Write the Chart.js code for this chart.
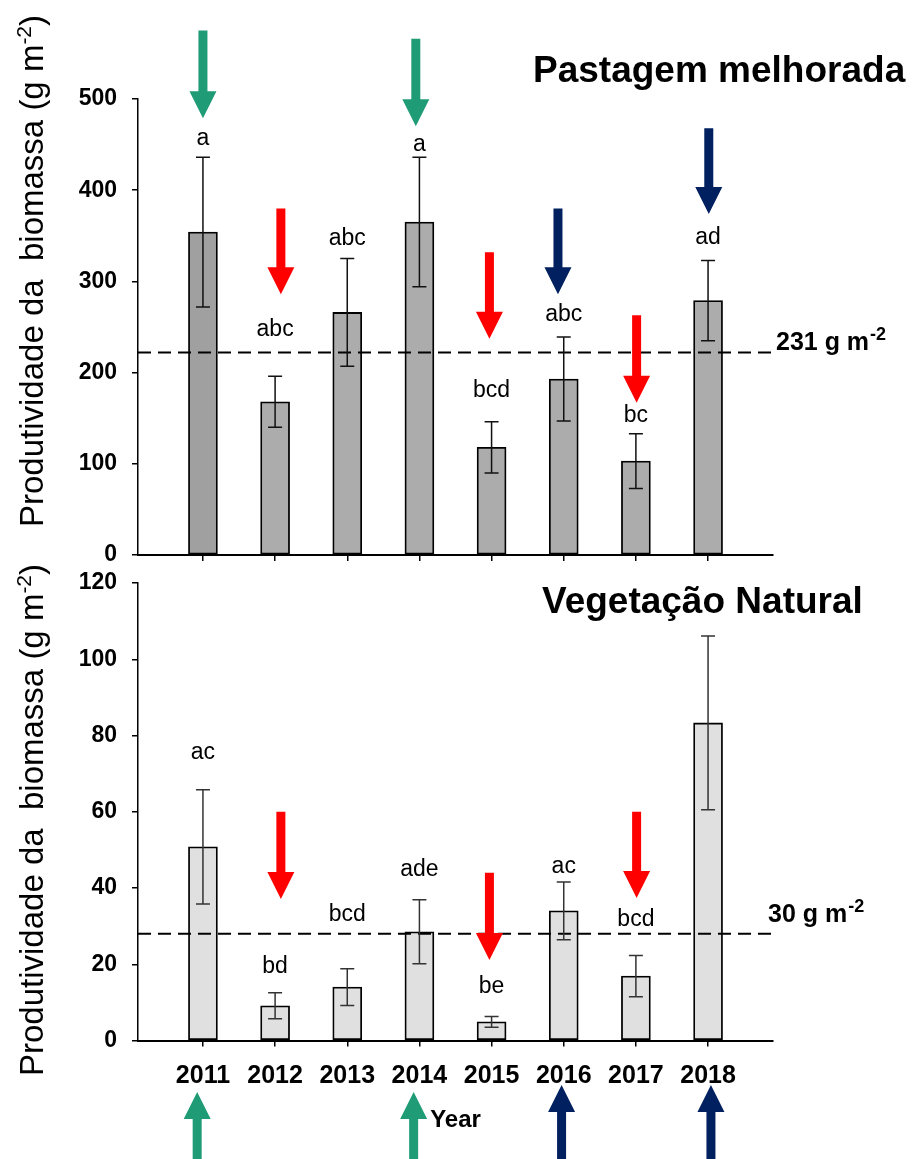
<!DOCTYPE html>
<html>
<head>
<meta charset="utf-8">
<script src="https://cdn.jsdelivr.net/npm/chart.js@4.4.1/dist/chart.umd.min.js"></script>
<style>
  html, body { margin: 0; padding: 0; background: #fff; }
  #wrap { position: relative; width: 913px; height: 1159px; overflow: hidden; }
  canvas { position: absolute; left: 0; top: 0; display: block; }
</style>
</head>
<body>
<div id="wrap">
  <canvas id="pastChart" width="913" height="1159"></canvas>
  <canvas id="vegChart" width="913" height="1159"></canvas>
</div>
<script>
const FAM = '"Liberation Sans", Arial, Helvetica, sans-serif';
const GREEN = '#1f9c76';
const RED = '#ff0000';
const NAVY = '#00205f';

// --- data ---
const YEARS = [2011, 2012, 2013, 2014, 2015, 2016, 2017, 2018];

// Pastagem melhorada (g m-2)
const PAST_MEAN = [354, 168, 266, 365, 118, 193, 103, 279];
const PAST_ERR = [82, 28, 59, 71, 28, 46, 30, 44];
const PAST_LETTERS = ['a', 'abc', 'abc', 'a', 'bcd', 'abc', 'bc', 'ad'];
const PAST_LETTER_Y = [456, 247, 347, 450, 180, 263, 153, 348];
const PAST_TICKS = [0, 100, 200, 300, 400, 500];
const PAST_REF = 222;

// Vegetação Natural (g m-2)
const VEG_MEAN = [50.8, 9.1, 14.0, 28.5, 4.9, 34.0, 16.9, 83.3];
const VEG_ERR = [15, 3.4, 4.8, 8.4, 1.4, 7.6, 5.4, 22.8];
const VEG_LETTERS = ['ac', 'bd', 'bcd', 'ade', 'be', 'ac', 'bcd', ''];
const VEG_LETTER_Y = [75.5, 19.3, 33, 44.8, 14, 45.6, 31.6, 0];
const VEG_TICKS = [0, 20, 40, 60, 80, 100, 120];
const VEG_REF = 28;

// arrows (x in years, from/to in y units of the panel)
const PAST_ARROWS = [
  { x: 2011.0, from: 575, to: 479, color: GREEN },
  { x: 2012.08, from: 380, to: 286, color: RED },
  { x: 2013.95, from: 566, to: 470, color: GREEN },
  { x: 2014.97, from: 332, to: 237, color: RED },
  { x: 2015.92, from: 380, to: 286, color: NAVY },
  { x: 2017.01, from: 263, to: 167, color: RED },
  { x: 2018.01, from: 468, to: 374, color: NAVY }
];
const VEG_ARROWS = [
  { x: 2012.08, from: 60, to: 37.1, color: RED },
  { x: 2014.97, from: 44, to: 21.1, color: RED },
  { x: 2017.01, from: 60, to: 37.4, color: RED },
  { x: 2010.92, from: -33, to: -13.5, color: GREEN },
  { x: 2013.92, from: -33, to: -13.5, color: GREEN },
  { x: 2015.97, from: -33, to: -11.7, color: NAVY },
  { x: 2018.04, from: -33, to: -11.7, color: NAVY }
];

const X_MIN = 2010.1, X_MAX = 2018.9;

function drawArrow(ctx, x, y0, y1, color) {
  const dir = Math.sign(y1 - y0);
  const headLen = 27, headW = 13.5, shaftW = 4.5;
  const hb = y1 - dir * headLen;
  ctx.fillStyle = color;
  ctx.beginPath();
  ctx.moveTo(x - shaftW, y0);
  ctx.lineTo(x + shaftW, y0);
  ctx.lineTo(x + shaftW, hb);
  ctx.lineTo(x + headW, hb);
  ctx.lineTo(x, y1);
  ctx.lineTo(x - headW, hb);
  ctx.lineTo(x - shaftW, hb);
  ctx.closePath();
  ctx.fill();
}

function drawYTitle(ctx, cx, cy) {
  const main = 'Produtividade da  biomassa (g m', sup = '-2', end = ')';
  const f1 = '33px ' + FAM, f2 = '21px ' + FAM;
  ctx.save();
  ctx.translate(cx, cy);
  ctx.rotate(-Math.PI / 2);
  ctx.font = f1;
  const w1 = ctx.measureText(main).width, w3 = ctx.measureText(end).width;
  ctx.font = f2;
  const w2 = ctx.measureText(sup).width;
  const x0 = -(w1 + w2 + w3) / 2;
  ctx.fillStyle = '#000';
  ctx.textAlign = 'left';
  ctx.textBaseline = 'alphabetic';
  ctx.font = f1; ctx.fillText(main, x0, 0);
  ctx.font = f2; ctx.fillText(sup, x0 + w1, -12);
  ctx.font = f1; ctx.fillText(end, x0 + w1 + w2, 0);
  ctx.restore();
}

function extrasPlugin(p) {
  return {
    id: 'extras',
    afterDatasetsDraw(chart) {
      const { ctx, chartArea: a } = chart;
      const x = chart.scales.x, y = chart.scales.y;
      ctx.save();

      // dashed reference line
      const ry = y.getPixelForValue(p.ref);
      ctx.strokeStyle = '#000';
      ctx.lineWidth = 2;
      ctx.setLineDash([13, 7]);
      ctx.beginPath();
      ctx.moveTo(a.left, ry);
      ctx.lineTo(a.right, ry);
      ctx.stroke();
      ctx.setLineDash([]);

      // error bars
      ctx.strokeStyle = p.errColor;
      ctx.lineWidth = 1.5;
      YEARS.forEach((yr, i) => {
        const px = x.getPixelForValue(yr);
        const yt = y.getPixelForValue(p.mean[i] + p.err[i]);
        const yb = y.getPixelForValue(p.mean[i] - p.err[i]);
        ctx.beginPath();
        ctx.moveTo(px, yt); ctx.lineTo(px, yb);
        ctx.moveTo(px - 7, yt); ctx.lineTo(px + 7, yt);
        ctx.moveTo(px - 7, yb); ctx.lineTo(px + 7, yb);
        ctx.stroke();
      });

      // significance letters
      ctx.fillStyle = '#000';
      ctx.font = '23px ' + FAM;
      ctx.textAlign = 'center';
      ctx.textBaseline = 'middle';
      YEARS.forEach((yr, i) => {
        if (!p.letters[i]) return;
        ctx.fillText(p.letters[i], x.getPixelForValue(yr), y.getPixelForValue(p.letterY[i]));
      });

      // reference label
      ctx.textAlign = 'left';
      ctx.textBaseline = 'alphabetic';
      ctx.font = 'bold 25px ' + FAM;
      const lx = a.right + p.refDx, ly = ry + p.refDy;
      ctx.fillText(p.refText, lx, ly);
      const rw = ctx.measureText(p.refText).width;
      ctx.font = 'bold 18px ' + FAM;
      ctx.fillText('-2', lx + rw + 1, ly - 10);

      // arrows
      p.arrows.forEach(ar => {
        drawArrow(ctx, x.getPixelForValue(ar.x), y.getPixelForValue(ar.from), y.getPixelForValue(ar.to), ar.color);
      });

      // panel title
      ctx.fillStyle = '#000';
      ctx.font = 'bold 37px ' + FAM;
      ctx.textAlign = 'left';
      ctx.fillText(p.title, p.titleX, p.titleY);

      drawYTitle(ctx, 43, p.yTitleY);
      ctx.restore();
    }
  };
}

function buildPanel(id, p) {
  const tickColor = '#000';
  return new Chart(document.getElementById(id), {
    type: 'bar',
    data: {
      datasets: [{
        data: YEARS.map((yr, i) => ({ x: yr, y: p.mean[i] })),
        backgroundColor: p.fill,
        borderColor: '#000',
        borderWidth: 1.8,
        borderSkipped: false,
        barThickness: 29
      }]
    },
    options: {
      responsive: false,
      animation: false,
      events: [],
      layout: { padding: p.padding },
      plugins: { legend: { display: false }, tooltip: { enabled: false } },
      scales: {
        x: {
          type: 'linear',
          min: X_MIN,
          max: X_MAX,
          offset: false,
          afterBuildTicks: s => { s.ticks = YEARS.map(v => ({ value: v })); },
          afterFit: s => { s.height = p.xHeight; },
          grid: { offset: false, drawOnChartArea: false, drawTicks: true, tickLength: 6, color: tickColor, lineWidth: 1.5 },
          border: { display: true, color: '#000', width: 2 },
          ticks: {
            display: p.xLabels,
            padding: 15,
            color: '#000',
            autoSkip: false,
            maxRotation: 0,
            font: { family: FAM, size: 25, weight: 'bold' },
            callback: v => String(v)
          },
          title: {
            display: p.xLabels,
            text: 'Year',
            color: '#000',
            font: { family: FAM, size: 24, weight: 'bold' },
            padding: { top: 0, bottom: 24 }
          }
        },
        y: {
          min: 0,
          max: p.ticks[p.ticks.length - 1],
          afterBuildTicks: s => { s.ticks = p.ticks.map(v => ({ value: v })); },
          afterFit: s => { s.width = 138; },
          grid: { drawOnChartArea: false, drawTicks: true, tickLength: 6, color: tickColor, lineWidth: 1.5 },
          border: { display: true, color: '#000', width: 1.5 },
          ticks: {
            padding: 15,
            color: '#000',
            font: { family: FAM, size: 23, weight: 'bold' }
          }
        }
      }
    },
    plugins: [extrasPlugin(p)]
  });
}

// both canvases cover the full page; each panel's plot box is set by its padding
buildPanel('pastChart', {
  mean: PAST_MEAN, err: PAST_ERR, letters: PAST_LETTERS, letterY: PAST_LETTER_Y,
  ticks: PAST_TICKS, ref: PAST_REF, refText: '231 g m', refDx: 3, refDy: -3,
  arrows: PAST_ARROWS, errColor: '#111',
  fill: ['#a0a0a0', '#acacac', '#acacac', '#acacac', '#acacac', '#acacac', '#acacac', '#acacac'],
  title: 'Pastagem melhorada', titleX: 533, titleY: 82, yTitleY: 271,
  padding: { top: 99, right: 140, bottom: 589, left: 0 }, xHeight: 15, xLabels: false
});

buildPanel('vegChart', {
  mean: VEG_MEAN, err: VEG_ERR, letters: VEG_LETTERS, letterY: VEG_LETTER_Y,
  ticks: VEG_TICKS, ref: VEG_REF, refText: '30 g m', refDx: -5, refDy: -12,
  arrows: VEG_ARROWS, errColor: '#333',
  fill: '#e0e0e0',
  title: 'Vegetação Natural', titleX: 542, titleY: 613, yTitleY: 820,
  padding: { top: 583, right: 140, bottom: 0, left: 0 }, xHeight: 118.5, xLabels: true
});
</script>
</body>
</html>
